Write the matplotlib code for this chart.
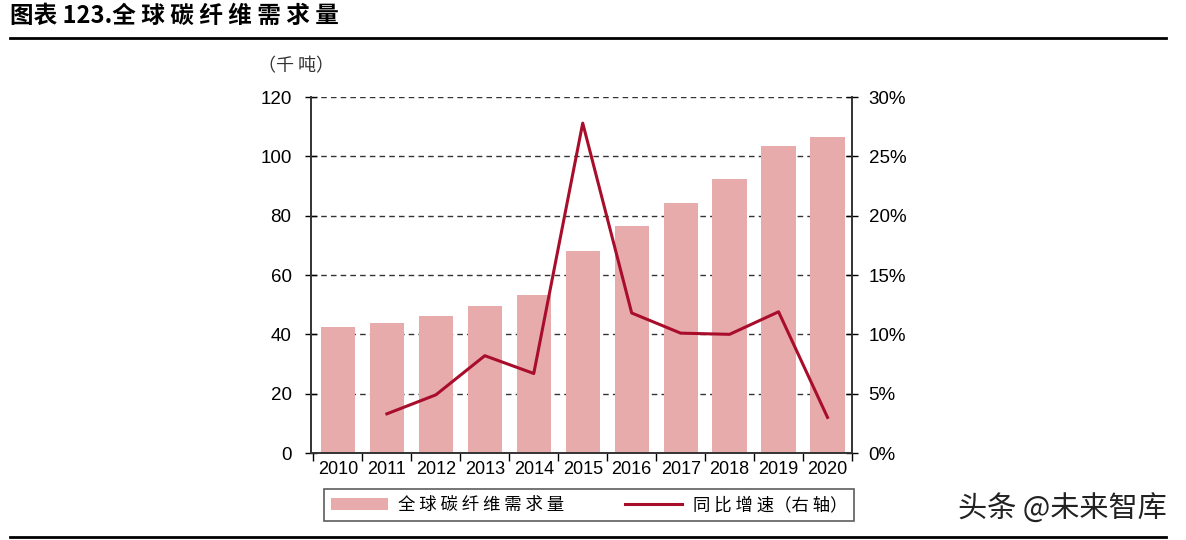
import matplotlib
matplotlib.use("Agg")
import matplotlib.pyplot as plt
from matplotlib import font_manager
from matplotlib.lines import Line2D
from matplotlib.patches import Patch
import numpy as np

years = ["2010", "2011", "2012", "2013", "2014", "2015", "2016", "2017", "2018", "2019", "2020"]
demand = [42.4, 43.7, 46.2, 49.6, 53.2, 68.2, 76.4, 84.2, 92.3, 103.6, 106.5]
growth_years = ["2011", "2012", "2013", "2014", "2015", "2016", "2017", "2018", "2019", "2020"]
growth = [3.3, 4.9, 8.2, 6.7, 27.8, 11.8, 10.1, 10.0, 11.9, 3.0]
left_ticks = [0, 20, 40, 60, 80, 100, 120]
right_ticks = [0, 5, 10, 15, 20, 25, 30]

names = {f.name for f in font_manager.fontManager.ttflist}
num_font = "Liberation Sans Narrow" if "Liberation Sans Narrow" in names else "Liberation Sans"
cjk = ["Noto Sans CJK SC", "DejaVu Sans"]
plt.rcParams['font.family'] = [num_font, "Noto Sans CJK SC", "DejaVu Sans"]

bar_color = "#E8ABAB"
line_color = "#A80E2C"

fig = plt.figure(figsize=(11.86, 5.40), dpi=100)
ax = fig.add_axes([311/1186, 1-453/540, (852-311)/1186, (453-97)/540])
x = np.arange(len(years))
ax.bar(x, demand, width=0.7, color=bar_color, zorder=2)
ax.set_xlim(-0.55, len(years)-0.5)
ax.set_ylim(0, 120)
ax.set_yticks(left_ticks)
ax.set_yticklabels([str(v) for v in left_ticks], fontsize=13.5)
ax.set_xticks(x)
ax.set_xticklabels(years, fontsize=13)
ax.tick_params(axis='x', length=0, pad=6)
ax.set_xticks(np.arange(-0.5, len(years), 1), minor=True)
ax.tick_params(axis='x', which='minor', length=6, direction='out', width=1)
ax.tick_params(axis='y', length=8, direction='inout', width=1, pad=10)
for v in left_ticks[1:]:
    ax.axhline(v, color="#333333", lw=1, ls=(0, (4, 3)), zorder=1)
ax.spines["top"].set_visible(False)
for s in ["left", "right", "bottom"]:
    ax.spines[s].set_color("#333333")
    ax.spines[s].set_linewidth(1.2)

ax2 = ax.twinx()
gx = [years.index(y) for y in growth_years]
ax2.plot(gx, growth, color=line_color, lw=2.2, zorder=3)
ax2.set_ylim(0, 30)
ax2.set_yticks(right_ticks)
ax2.set_yticklabels([f"{v}%" for v in right_ticks], fontsize=13.5)
ax2.tick_params(axis='y', length=8, direction='inout', width=1, pad=8)
ax2.spines["top"].set_visible(False)
for s in ["left", "right", "bottom"]:
    ax2.spines[s].set_color("#333333")
    ax2.spines[s].set_linewidth(1.2)

# Title and rules
fig.text(10/1186, 1-16/540, "图表 123.全 球 碳 纤 维 需 求 量", fontsize=17, fontweight="bold",
         family=cjk, va="center", ha="left")
fig.add_artist(Line2D([10/1186, 1166/1186], [1-38/540, 1-38/540], color="black", lw=2))
fig.add_artist(Line2D([10/1186, 1166/1186], [1-537/540, 1-537/540], color="black", lw=2))
fig.text(296/1186, 1-66/540, "（千 吨）", fontsize=13, family=cjk, va="center", ha="center",
         color="#333333")

handles = [Patch(facecolor=bar_color, edgecolor="none"),
           Line2D([], [], color=line_color, lw=2.2)]
leg = fig.legend(handles, ["全 球 碳 纤 维 需 求 量", "同 比 增 速（右 轴）"],
                 loc="center", bbox_to_anchor=(589/1186, 1-505/540), ncol=2,
                 prop={"family": cjk, "size": 12.5}, frameon=True, fancybox=False,
                 edgecolor="#333333", handlelength=3.3, columnspacing=3.5,
                 borderpad=0.4, borderaxespad=0, handletextpad=0.6)
leg.get_frame().set_linewidth(1.2)

fig.text(1062/1186, 1-510/540, "头条 @未来智库", fontsize=21, family=cjk,
         va="center", ha="center", color="#222222")

fig.savefig("out.png", dpi=100)
